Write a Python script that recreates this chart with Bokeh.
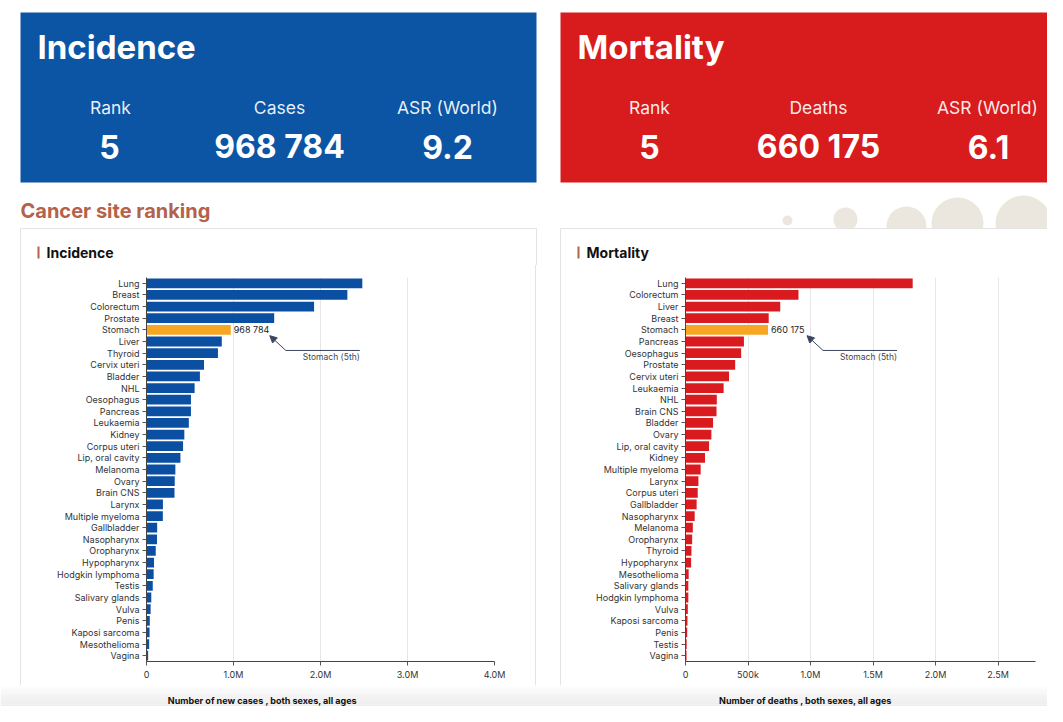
from bokeh.plotting import figure
from bokeh.layouts import column, row
from bokeh.models import Range1d, FixedTicker, Label, Arrow, NormalHead, ColumnDataSource
from bokeh.core.properties import value
from bokeh.embed import file_html
from bokeh.resources import INLINE

# ---------------- data ----------------
inc_sites = ["Lung", "Breast", "Colorectum", "Prostate", "Stomach", "Liver", "Thyroid",
             "Cervix uteri", "Bladder", "NHL", "Oesophagus", "Pancreas", "Leukaemia", "Kidney",
             "Corpus uteri", "Lip, oral cavity", "Melanoma", "Ovary", "Brain CNS", "Larynx",
             "Multiple myeloma", "Gallbladder", "Nasopharynx", "Oropharynx", "Hypopharynx",
             "Hodgkin lymphoma", "Testis", "Salivary glands", "Vulva", "Penis", "Kaposi sarcoma",
             "Mesothelioma", "Vagina"]
inc_values = [2480675, 2308897, 1926118, 1467854, 968784, 865269, 821214,
              661021, 613791, 553010, 511054, 510992, 486777, 434840,
              420242, 389846, 331722, 324603, 321731, 188960,
              187952, 122462, 120434, 106316, 86257,
              82409, 72031, 55083, 47336, 37699, 35360,
              30618, 18819]

mort_sites = ["Lung", "Colorectum", "Liver", "Breast", "Stomach", "Pancreas", "Oesophagus",
              "Prostate", "Cervix uteri", "Leukaemia", "NHL", "Brain CNS", "Bladder", "Ovary",
              "Lip, oral cavity", "Kidney", "Multiple myeloma", "Larynx", "Corpus uteri",
              "Gallbladder", "Nasopharynx", "Melanoma", "Oropharynx", "Thyroid", "Hypopharynx",
              "Mesothelioma", "Salivary glands", "Hodgkin lymphoma", "Vulva", "Kaposi sarcoma",
              "Penis", "Testis", "Vagina"]
mort_values = [1817469, 903859, 757948, 665684, 660175, 467409, 445129,
               397430, 348189, 305033, 250475, 248305, 220349, 206956,
               188438, 155953, 121388, 103216, 97723,
               89055, 73482, 58667, 53144, 47507, 45000,
               25416, 22500, 22701, 18579, 15726,
               13604, 9056, 8240]

highlight_site = "Stomach"
highlight_label = "Stomach (5th)"

inc_ticks = [0, 1000000, 2000000, 3000000, 4000000]
inc_tick_labels = ["0", "1.0M", "2.0M", "3.0M", "4.0M"]
mort_ticks = [0, 500000, 1000000, 1500000, 2000000, 2500000]
mort_tick_labels = ["0", "500k", "1.0M", "1.5M", "2.0M", "2.5M"]

inc_summary_labels = ["Rank", "Cases", "ASR (World)"]
inc_summary_values = ["5", "968 784", "9.2"]
mort_summary_labels = ["Rank", "Deaths", "ASR (World)"]
mort_summary_values = ["5", "660 175", "6.1"]

inc_axis_title = "Number of new cases , both sexes, all ages"
mort_axis_title = "Number of deaths , both sexes, all ages"

# ---------------- styles ----------------
FONT = "Inter"
BLUE = "#0c55a4"
RED = "#d81b1c"
BAR_BLUE = "#0b4fa2"
BAR_RED = "#d91b1f"
ORANGE = "#f6a623"
BROWN = "#b4624a"
BEIGE = "#ebe7de"
ANN = "#3b4660"
CARD = "#e4e4e4"

W = 1047
TOP_H = 265
CHART_H = 420
STRIP_H = 706 - TOP_H - CHART_H

# ---------------- top header figure (pixel coordinates) ----------------
top = figure(width=W, height=TOP_H, x_range=Range1d(0, W), y_range=Range1d(TOP_H, 0),
             output_backend="svg", toolbar_location=None, x_axis_type=None, y_axis_type=None,
             min_border=0, outline_line_color=None)
top.grid.visible = False

top.quad(left=[20], right=[536], top=[12], bottom=[182], fill_color=BLUE, line_color=None)
top.quad(left=[560], right=[1070], top=[12], bottom=[182], fill_color=RED, line_color=None)

# decorative blobs
top.circle(x=[787, 845, 906, 957, 1023], y=[220, 219, 226, 223, 223],
           radius=[5, 12, 20, 26, 28], fill_color=BEIGE, line_color=None)

# cards (top part)
top.quad(left=[20, 560], right=[536, 1075], top=[228, 228], bottom=[300, 300],
         fill_color="white", line_color=CARD, line_width=1)


def head_text(xs, ys, texts, size, style="normal", align="left", color="white", alpha=1.0):
    top.text(x=xs, y=ys, text=texts, text_font=value(FONT), text_font_size=value(size),
             text_font_style=style, text_align=align, text_baseline="middle",
             text_color=color, text_alpha=alpha)


head_text([37], [46], ["Incidence"], "33px", "bold")
head_text([577], [46], ["Mortality"], "33px", "bold")
head_text([110, 279, 447], [107] * 3, inc_summary_labels, "17.5px", align="center", alpha=0.92)
head_text([649, 818, 987], [107] * 3, mort_summary_labels, "17.5px", align="center", alpha=0.92)
head_text([109, 279, 447], [146] * 3, inc_summary_values, "32px", "bold", align="center")
head_text([649, 818, 988], [146] * 3, mort_summary_values, "32px", "bold", align="center")

head_text([20], [210], ["Cancer site ranking"], "20px", "bold", color=BROWN)

top.quad(left=[37, 577], right=[39, 579], top=[246, 246], bottom=[258, 258],
         fill_color=BROWN, line_color=None)
head_text([46, 586], [252, 252], ["Incidence", "Mortality"], "14px", "bold", color="#111111")


# ---------------- bar charts ----------------
def chart(sites, vals, bar_color, ticks, tick_labels, xmax, width, bl, br, card_css):
    n = len(sites)
    p = figure(width=width, height=CHART_H, x_range=Range1d(0, xmax), y_range=Range1d(n - 0.5, -0.5),
               output_backend="svg", toolbar_location=None,
               min_border_left=bl, min_border_right=br, min_border_top=12,
               min_border_bottom=CHART_H - 12 - 384,
               outline_line_color=None, background_fill_color="white",
               border_fill_color="white", border_fill_alpha=0.0,
               styles={"background-image": card_css})
    colors = [ORANGE if s == highlight_site else bar_color for s in sites]
    src = ColumnDataSource(dict(y=list(range(n)), right=vals, color=colors))
    p.hbar(y="y", left=0, right="right", height=0.84, fill_color="color", line_color=None, source=src)

    xt = FixedTicker(ticks=ticks)
    p.xaxis.ticker = xt
    p.xgrid.ticker = xt
    p.xaxis.major_label_overrides = {t: l for t, l in zip(ticks, tick_labels)}
    p.xgrid.grid_line_color = "#e6e6e6"
    p.ygrid.grid_line_color = None

    yt = FixedTicker(ticks=list(range(n)))
    p.yaxis.ticker = yt
    p.yaxis.major_label_overrides = {i: s for i, s in enumerate(sites)}

    for ax in (p.xaxis, p.yaxis):
        ax.axis_line_color = "#444444"
        ax.major_tick_line_color = "#555555"
        ax.major_tick_out = 4
        ax.major_tick_in = 0
        ax.minor_tick_line_color = None
        ax.major_label_text_font = FONT
        ax.major_label_text_font_size = "9px"
        ax.major_label_text_color = "#333333"
        ax.major_label_standoff = 3

    # value label + annotation for the highlighted site
    hi = sites.index(highlight_site)
    hv = vals[hi]
    fw = width - bl - br
    upp = xmax / fw  # data units per pixel
    p.add_layout(Label(x=hv, y=hi, x_offset=3, text=f"{hv:,}".replace(",", " "),
                       text_font=FONT, text_font_size="9px", text_color="#222222",
                       text_baseline="middle"))
    tip_x, bend_x, end_x = hv + 39 * upp, hv + 55 * upp, hv + 129 * upp
    tip_y, bend_y, txt_y = hi + 0.5, hi + 1.77, hi + 2.3
    p.line(x=[end_x, bend_x], y=[bend_y, bend_y], line_color=ANN, line_width=1)
    p.add_layout(Arrow(end=NormalHead(size=7, fill_color=ANN, line_color=ANN),
                       x_start=bend_x, y_start=bend_y, x_end=tip_x, y_end=tip_y,
                       line_color=ANN, line_width=1))
    p.add_layout(Label(x=end_x, y=txt_y, text=highlight_label, text_font=FONT,
                       text_font_size="8.5px", text_color="#3d4454",
                       text_align="right", text_baseline="middle"))
    return p


left_css = (f"linear-gradient(to right, transparent 20px, {CARD} 20px, {CARD} 21px, transparent 21px, "
            f"transparent 535px, {CARD} 535px, {CARD} 536px, transparent 536px)")
right_css = f"linear-gradient(to right, transparent 12px, {CARD} 12px, {CARD} 13px, transparent 13px)"

left = chart(inc_sites, inc_values, BAR_BLUE, inc_ticks, inc_tick_labels, 4000000, 548, 146, 54, left_css)
right = chart(mort_sites, mort_values, BAR_RED, mort_ticks, mort_tick_labels, 2800000, W - 548, 137, 12, right_css)

# ---------------- bottom strip with axis titles ----------------
strip = figure(width=W, height=STRIP_H, x_range=Range1d(0, W), y_range=Range1d(STRIP_H, 0),
               output_backend="svg", toolbar_location=None, x_axis_type=None, y_axis_type=None,
               min_border=0, outline_line_color=None)
strip.grid.visible = False
shades = ["#fdfdfd", "#fbfbfb", "#f9f9f9", "#f7f7f7", "#f5f5f5", "#f3f3f3", "#f2f2f2",
          "#f0f0f0", "#efefef", "#eeeeee", "#ededed"]
step = STRIP_H / len(shades)
strip.quad(left=[0] * len(shades), right=[W] * len(shades),
           top=[step * i for i in range(len(shades))],
           bottom=[step * (i + 1) for i in range(len(shades))],
           fill_color=shades, line_color=None)
strip.text(x=[262, 805], y=[STRIP_H - 6, STRIP_H - 6],
           text=[inc_axis_title, mort_axis_title],
           text_font=value(FONT), text_font_size=value("9px"), text_font_style="bold",
           text_align="center", text_baseline="middle", text_color="#111111")

layout = column(top, row(left, right), strip)

open("out.html", "w").write(file_html(layout, INLINE))
